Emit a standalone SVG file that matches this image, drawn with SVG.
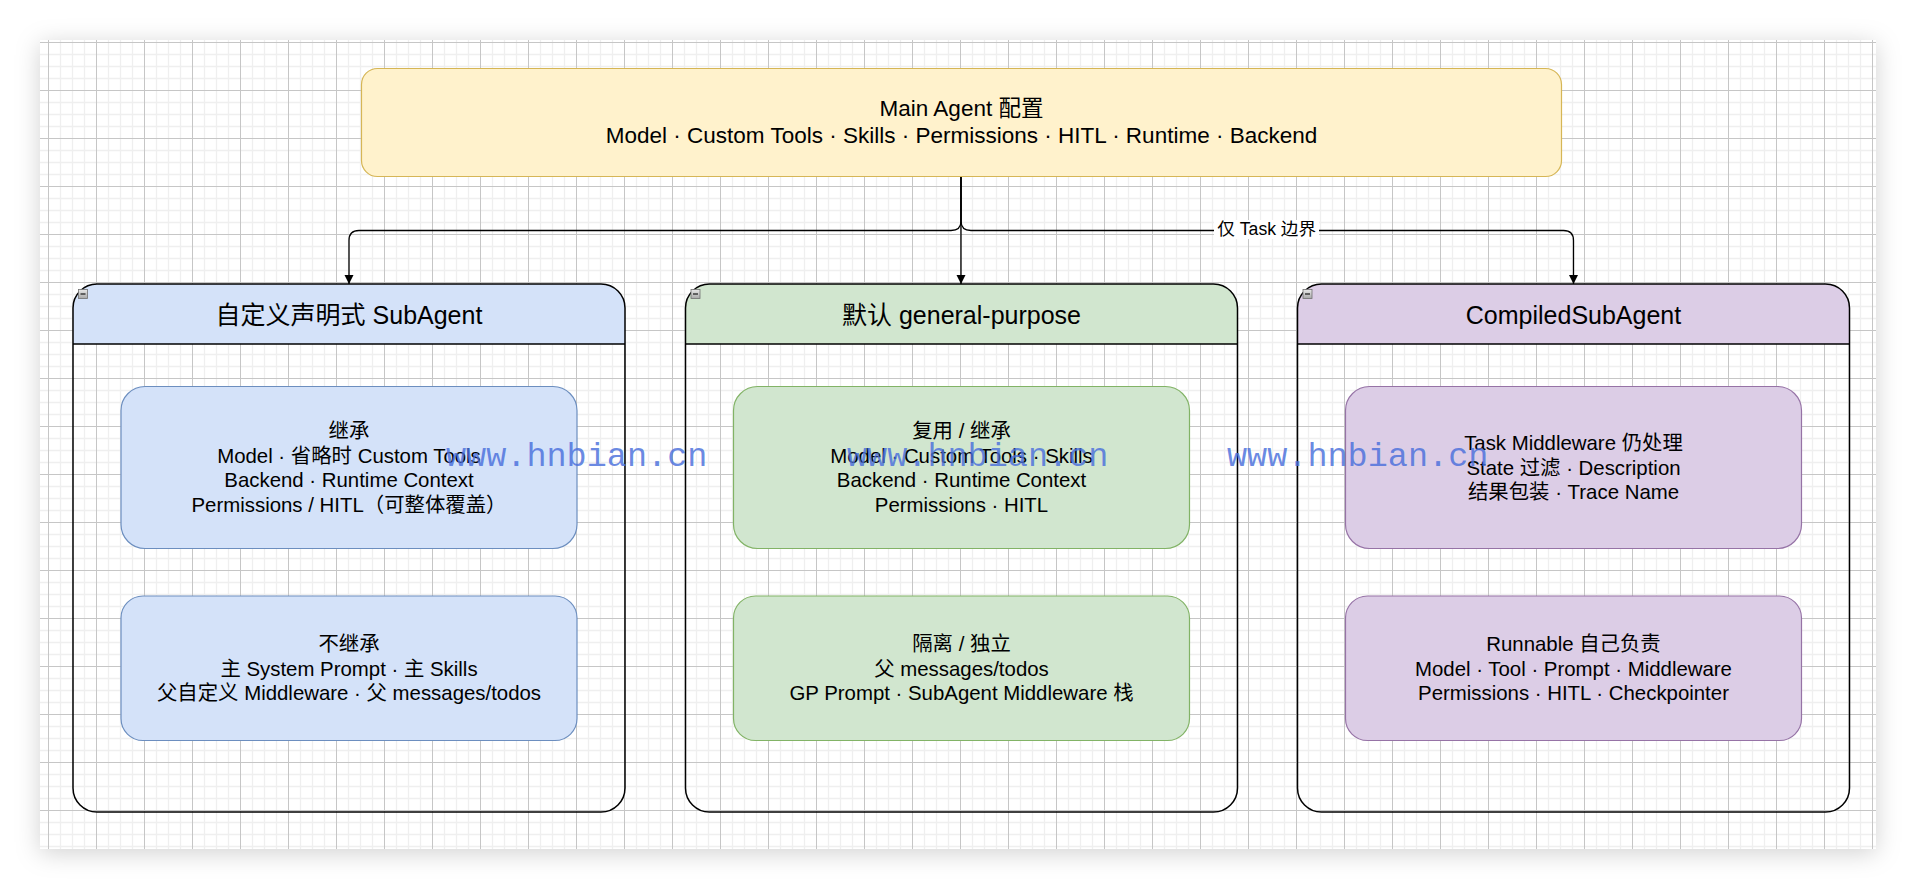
<svg xmlns="http://www.w3.org/2000/svg" width="1916" height="890" viewBox="0 0 1916 890">
  <defs>
    <style>
      text { font-family: "Liberation Sans", "Noto Sans CJK SC", sans-serif; fill: #000; text-anchor: middle; }
      .main { font-size: 22.5px; }
      .title { font-size: 25px; }
      .inner { font-size: 20.4px; }
      .lbl { font-size: 17.6px; }
      .wm { font-family: "Liberation Mono", "DejaVu Sans Mono", monospace; font-size: 33.5px; fill: #4a6fdc; fill-opacity: 0.82; text-anchor: start; }
      .cont { fill: none; stroke: #000; stroke-width: 1.5; }
      .hdr-line { stroke: #000; stroke-width: 1.5; }
      .edge { fill: none; stroke: #000; stroke-width: 1.3; }
      .blue { fill: #d4e2f9; stroke: #6c8ebf; stroke-width: 1.2; }
      .green { fill: #d1e6cf; stroke: #82b366; stroke-width: 1.2; }
      .purple { fill: #dccde6; stroke: #9673a6; stroke-width: 1.2; }
      .icon { fill: url(#ig); stroke: #707070; stroke-width: 0.8; }
    </style>
    <pattern id="grid" patternUnits="userSpaceOnUse" x="48" y="42" width="48" height="48">
      <path d="M12.5,0 V48 M24.5,0 V48 M36.5,0 V48 M0,12.5 H48 M0,24.5 H48 M0,36.5 H48" stroke="#efefef" stroke-width="1.3" fill="none"/>
      <path d="M0.5,0 V48 M0,0.5 H48" stroke="#c6c6c6" stroke-width="1" fill="none"/>
    </pattern>
    <filter id="sh" x="-5%" y="-8%" width="110%" height="116%">
      <feDropShadow dx="0" dy="4" stdDeviation="12" flood-color="#000" flood-opacity="0.18"/>
    </filter>
    <linearGradient id="ig" x1="0" y1="0" x2="0" y2="1">
      <stop offset="0" stop-color="#e8e8e8"/>
      <stop offset="1" stop-color="#a8a8a8"/>
    </linearGradient>
    <marker id="arr" viewBox="0 0 10 10" refX="10" refY="5" markerUnits="userSpaceOnUse" markerWidth="9.5" markerHeight="9.5" orient="auto">
      <path d="M0,0 L10,5 L0,10 z" fill="#000"/>
    </marker>
  </defs>

  <rect x="0" y="0" width="1916" height="890" fill="#fff"/>
  <rect x="40" y="40" width="1836" height="809" fill="#fff" filter="url(#sh)"/>
  <rect x="40" y="40" width="1836" height="809" fill="url(#grid)"/>

  <g id="connectors">
    <path class="edge" d="M961,177 V221 Q961,230.5 951,230.5 H359 Q349,230.5 349,240.5 V284" marker-end="url(#arr)"/>
    <path class="edge" d="M961,177 V284" marker-end="url(#arr)"/>
    <path class="edge" d="M961,177 V221 Q961,230.5 971,230.5 H1563.5 Q1573.5,230.5 1573.5,240.5 V284" marker-end="url(#arr)"/>
    <rect x="1214" y="220" width="105" height="19" fill="#fff"/>
    <text class="lbl" x="1266.7" y="234.5">仅 Task 边界</text>
  </g>

  <g id="main-agent">
    <rect x="361.5" y="68.5" width="1200" height="108" rx="16" ry="16" fill="#fff2cc" stroke="#d6b656" stroke-width="1.2"/>
    <text class="main" x="961.5" y="116">Main Agent 配置</text>
    <text class="main" x="961.5" y="142.7">Model · Custom Tools · Skills · Permissions · HITL · Runtime · Backend</text>
  </g>

  <g id="custom-subagent">
    <path d="M73,344 V308 A24,24 0 0 1 97,284 H601 A24,24 0 0 1 625,308 V344 Z" fill="#d4e2f9"/>
    <rect class="cont" x="73" y="284" width="552" height="528" rx="24" ry="24"/>
    <line class="hdr-line" x1="73" y1="344" x2="625" y2="344"/>
    <rect class="icon" x="78.5" y="289.5" width="9" height="9"/>
    <line x1="80.5" y1="294" x2="85.5" y2="294" stroke="#333" stroke-width="1.4"/>
    <text class="title" x="349" y="323.5">自定义声明式 SubAgent</text>
  </g>
  <g id="custom-inherit">
    <rect class="blue" x="121" y="386.5" width="456" height="162" rx="24" ry="24"/>
    <text class="inner" x="349" y="438">继承</text>
    <text class="inner" x="349" y="462.5">Model · 省略时 Custom Tools</text>
    <text class="inner" x="349" y="487">Backend · Runtime Context</text>
    <text class="inner" x="349" y="511.5">Permissions / HITL（可整体覆盖）</text>
  </g>
  <g id="custom-noinherit">
    <rect class="blue" x="121" y="596" width="456" height="144.5" rx="22" ry="22"/>
    <text class="inner" x="349" y="651">不继承</text>
    <text class="inner" x="349" y="675.5">主 System Prompt · 主 Skills</text>
    <text class="inner" x="349" y="700">父自定义 Middleware · 父 messages/todos</text>
  </g>

  <g id="general-purpose">
    <path d="M685.5,344 V308 A24,24 0 0 1 709.5,284 H1213.5 A24,24 0 0 1 1237.5,308 V344 Z" fill="#d1e6cf"/>
    <rect class="cont" x="685.5" y="284" width="552" height="528" rx="24" ry="24"/>
    <line class="hdr-line" x1="685.5" y1="344" x2="1237.5" y2="344"/>
    <rect class="icon" x="691" y="289.5" width="9" height="9"/>
    <line x1="693" y1="294" x2="698" y2="294" stroke="#333" stroke-width="1.4"/>
    <text class="title" x="961.5" y="323.5">默认 general-purpose</text>
  </g>
  <g id="gp-reuse">
    <rect class="green" x="733.5" y="386.5" width="456" height="162" rx="24" ry="24"/>
    <text class="inner" x="961.5" y="438">复用 / 继承</text>
    <text class="inner" x="961.5" y="462.5">Model · Custom Tools · Skills</text>
    <text class="inner" x="961.5" y="487">Backend · Runtime Context</text>
    <text class="inner" x="961.5" y="511.5">Permissions · HITL</text>
  </g>
  <g id="gp-isolate">
    <rect class="green" x="733.5" y="596" width="456" height="144.5" rx="22" ry="22"/>
    <text class="inner" x="961.5" y="651">隔离 / 独立</text>
    <text class="inner" x="961.5" y="675.5">父 messages/todos</text>
    <text class="inner" x="961.5" y="700">GP Prompt · SubAgent Middleware 栈</text>
  </g>

  <g id="compiled-subagent">
    <path d="M1297.5,344 V308 A24,24 0 0 1 1321.5,284 H1825.5 A24,24 0 0 1 1849.5,308 V344 Z" fill="#dccde6"/>
    <rect class="cont" x="1297.5" y="284" width="552" height="528" rx="24" ry="24"/>
    <line class="hdr-line" x1="1297.5" y1="344" x2="1849.5" y2="344"/>
    <rect class="icon" x="1303" y="289.5" width="9" height="9"/>
    <line x1="1305" y1="294" x2="1310" y2="294" stroke="#333" stroke-width="1.4"/>
    <text class="title" x="1573.5" y="323.5">CompiledSubAgent</text>
  </g>
  <g id="compiled-task">
    <rect class="purple" x="1345.5" y="386.5" width="456" height="162" rx="24" ry="24"/>
    <text class="inner" x="1573.5" y="450.3">Task Middleware 仍处理</text>
    <text class="inner" x="1573.5" y="474.8">State 过滤 · Description</text>
    <text class="inner" x="1573.5" y="499.3">结果包装 · Trace Name</text>
  </g>
  <g id="compiled-runnable">
    <rect class="purple" x="1345.5" y="596" width="456" height="144.5" rx="22" ry="22"/>
    <text class="inner" x="1573.5" y="651">Runnable 自己负责</text>
    <text class="inner" x="1573.5" y="675.5">Model · Tool · Prompt · Middleware</text>
    <text class="inner" x="1573.5" y="700">Permissions · HITL · Checkpointer</text>
  </g>

  <g id="watermark">
    <text class="wm" x="446" y="466">www.hnbian.cn</text>
    <text class="wm" x="847" y="466">www.hnbian.cn</text>
    <text class="wm" x="1227" y="466">www.hnbian.cn</text>
  </g>
</svg>
